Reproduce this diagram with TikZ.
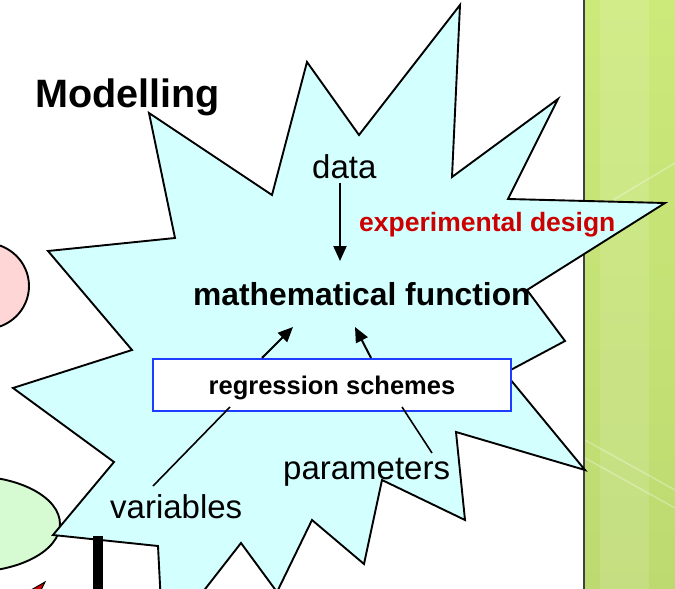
\documentclass[tikz,border=0pt]{standalone}
\usepackage{fontspec}
\setmainfont{Liberation Sans}
\usetikzlibrary{arrows.meta}
\definecolor{starfill}{RGB}{212,255,255}
\definecolor{boxblue}{RGB}{30,60,255}
\definecolor{expred}{RGB}{204,0,0}
\definecolor{pinkfill}{RGB}{255,214,214}
\definecolor{greenfill}{RGB}{214,250,210}
\definecolor{panelA}{RGB}{204,234,122}
\definecolor{panelB}{RGB}{188,218,112}
\definecolor{paneledge}{RGB}{64,64,64}
\tikzset{
  lbl/.style={inner sep=0pt, anchor=base west, text=black},
  bigbold/.style={lbl, font=\bfseries\fontsize{39.6}{44}\selectfont},
  plainlbl/.style={lbl, font=\fontsize{33}{38}\selectfont},
  fnlbl/.style={lbl, font=\bfseries\fontsize{31.8}{36}\selectfont},
  explbl/.style={lbl, text=expred, font=\bfseries\fontsize{26.5}{30}\selectfont},
  regbox/.style={draw=boxblue, line width=2.2pt, fill=white, minimum width=358pt,
    minimum height=52pt, inner sep=0pt, text depth=0pt,
    font=\bfseries\fontsize{25.5}{30}\selectfont},
  arr/.style={line width=2pt, -{Triangle[length=15pt,width=13pt]}},
  leader/.style={line width=1.6pt},
  outline/.style={line width=1.9pt, draw=black, line join=miter}
}
\begin{document}
\begin{tikzpicture}[x=1pt,y=-1pt]
\useasboundingbox (0,0) rectangle (675,589);
\fill[white] (0,0) rectangle (675,589);
\begin{scope}
\clip (0,0) rectangle (675,589);
% left partial shapes
\filldraw[outline, fill=pinkfill] (-15,286) ellipse [x radius=44pt, y radius=43pt];
\filldraw[outline, fill=greenfill] (-30,524) ellipse [x radius=90pt, y radius=48pt];
% green side panel
\shade[top color=panelA, bottom color=panelB] (585,0) rectangle (675,589);
\fill[white, opacity=0.12] (600,0) rectangle (649,589);
\draw[white, opacity=0.3, line width=1.5pt] (613,200) -- (675,163);
\draw[white, opacity=0.3, line width=1.5pt] (585,440) -- (675,490);
\draw[white, opacity=0.3, line width=1.5pt] (585,458) -- (675,508);
\draw[paneledge, line width=2.2pt] (584,0) -- (584,589);
% star
\filldraw[outline, fill=starfill]
  (307,62) -- (359,135) -- (460,5) -- (452,177) -- (558,99) -- (508,199)
  -- (665,203) -- (527,290) -- (565,341) -- (505,373) -- (585,470)
  -- (456,432) -- (465,520) -- (382,480) -- (364,564) -- (312,520)
  -- (277,592) -- (241,543) -- (163,643) -- (158,546) -- (53,535)
  -- (114,462) -- (13,388) -- (132,350) -- (48,251) -- (175,238)
  -- (149,113) -- (272,195) -- cycle;
% bottom-left fragments
\fill[black] (93,536) rectangle (103,589);
\filldraw[line width=1pt, fill=red!85!black] (24,594) -- (45,582) -- (39,594) -- cycle;
\end{scope}
% texts
\node[bigbold] (title) at (35,107) {Modelling};
\node[plainlbl] (data) at (312,178) {data};
\node[explbl] (exp) at (359,231) {experimental design};
\node[fnlbl] (mf) at (193,305) {mathematical function};
\node[regbox] (box) at (332,385) {regression schemes};
\node[plainlbl] (var) at (110,518) {variables};
\node[plainlbl] (par) at (283,479) {parameters};
% connectors
\coordinate (dTip) at (340,261);
\draw[arr] ([yshift=-4pt]dTip |- data.south) -- (dTip);
\coordinate (aOne) at (293,327);
\coordinate (aOneS) at (262,0);
\draw[arr] (aOneS |- box.north) -- (aOne);
\coordinate (aTwo) at (355,327);
\coordinate (aTwoS) at (371,0);
\draw[arr] (aTwoS |- box.north) -- (aTwo);
\coordinate (vS) at (153,486);
\coordinate (vE) at (230,407);
\draw[leader] (vS) -- (vE);
\coordinate (pS) at (432,453);
\coordinate (pE) at (402,407);
\draw[leader] (pS) -- (pE);
\end{tikzpicture}
\end{document}
